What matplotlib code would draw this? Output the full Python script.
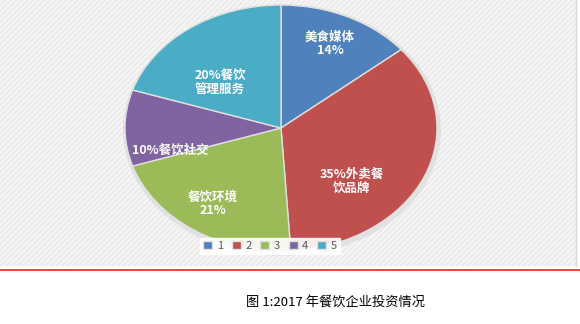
import matplotlib
matplotlib.use("Agg")
import matplotlib.pyplot as plt
from matplotlib.patches import Rectangle, Ellipse

plt.rcParams['font.family'] = ['Noto Sans CJK SC', 'DejaVu Sans']
plt.rcParams['hatch.linewidth'] = 0.6

# Datos del gráfico
categorias = ["1", "2", "3", "4", "5"]
valores = [14, 35, 21, 10, 20]
colores = ["#4F81BD", "#C0504D", "#9BBB59", "#8064A2", "#4BACC6"]
etiquetas = ["美食媒体\n14%", "35%外卖餐\n饮品牌", "餐饮环境\n21%", "10%餐饮社交", "20%餐饮\n管理服务"]
titulo = "图 1:2017 年餐饮企业投资情况"

W, H = 580, 324
fig = plt.figure(figsize=(W / 100, H / 100), dpi=100)

# Fondo en coordenadas de pixel
bg = fig.add_axes([0, 0, 1, 1])
bg.set_xlim(0, W)
bg.set_ylim(H, 0)
bg.axis("off")
bg.add_patch(Rectangle((0, 0), 576, 266, facecolor="#f4f4f4", edgecolor="#e3e3e3",
                       hatch="//////", linewidth=0))
bg.plot([576, 576], [0, 266], color="#d9d9d9", lw=1)
bg.plot([0, W], [270, 270], color="#e8281e", lw=1.2)

# Sombra suave del pastel
cx, cy, rx, ry = 281, 128, 156, 123
bg.add_patch(Ellipse((cx + 1, cy + 2), 2 * rx + 6, 2 * ry + 6, facecolor="#dcdcdc",
                     edgecolor="none", alpha=0.7))

# Pastel (elíptico)
ax = fig.add_axes([(cx - rx) / W, 1 - (cy + ry) / H, 2 * rx / W, 2 * ry / H])
wedges, _ = ax.pie(valores, colors=colores, startangle=90, counterclock=False,
                   wedgeprops=dict(edgecolor="#e0e0e0", linewidth=1))
ax.set_aspect("auto")
ax.set_xlim(-1, 1)
ax.set_ylim(-1, 1)

# Etiquetas dentro de las porciones (pixeles)
posiciones = [(330, 44), (352, 181), (213, 204), (170, 150), (220, 82)]
for txt, (x, y) in zip(etiquetas, posiciones):
    fig.text(x, y, txt, transform=bg.transData, ha="center", va="center",
             color="white", fontsize=9, fontweight="bold", linespacing=1.1)

leg = ax.legend(wedges, categorias, ncol=5, loc="center",
                bbox_to_anchor=(270 / W, 1 - 246 / H), bbox_transform=fig.transFigure,
                frameon=True, fancybox=False, fontsize=8, handlelength=0.8,
                handleheight=0.8, handletextpad=0.4, columnspacing=0.8,
                borderpad=0.3, labelcolor="#595959")
leg.get_frame().set_facecolor("white")
leg.get_frame().set_edgecolor("white")
leg.get_frame().set_alpha(0.9)

fig.text(335 / W, 1 - 302 / H, titulo, ha="center", va="center", fontsize=9.5, color="black")

fig.savefig("out.png", dpi=100)
